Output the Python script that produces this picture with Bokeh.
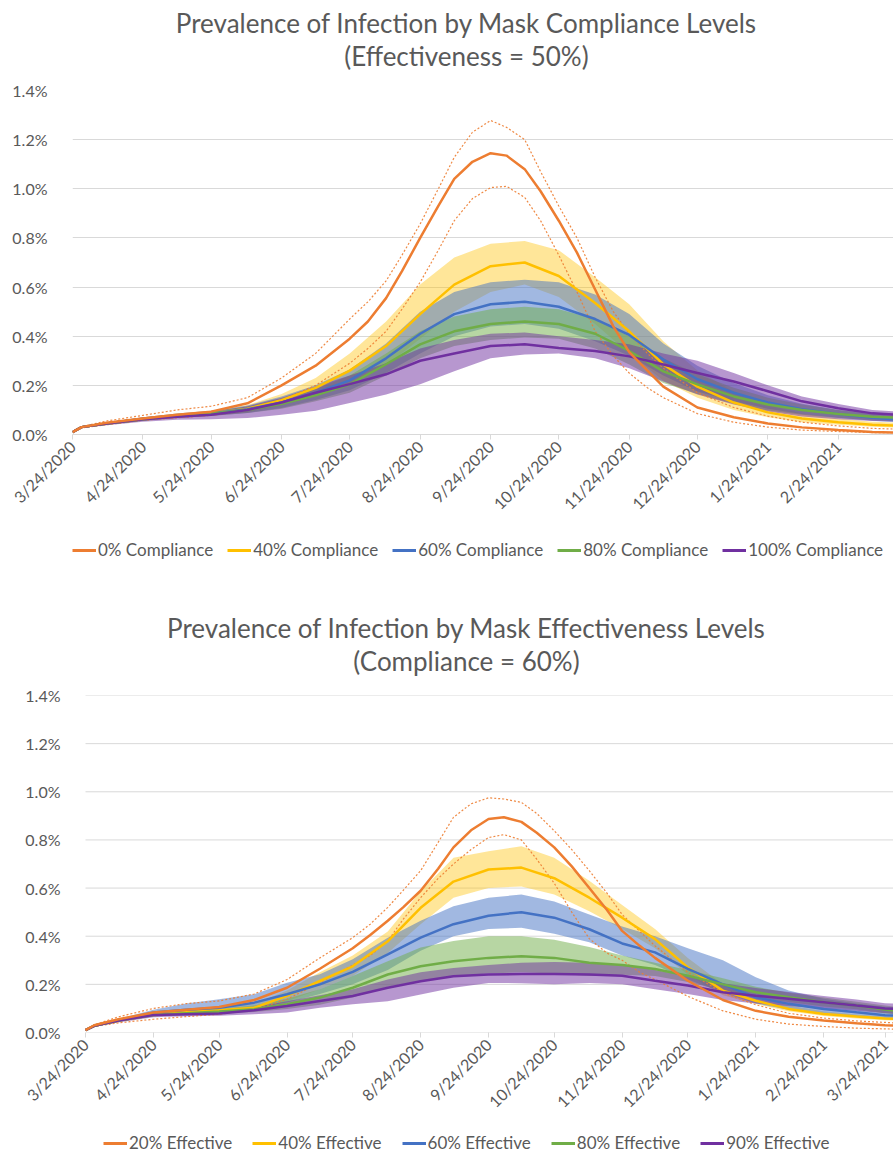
import math
from bokeh.plotting import figure
from bokeh.models import Range1d, FixedTicker, Legend, LegendItem, Label
from bokeh.layouts import column
from bokeh.embed import file_html
from bokeh.resources import INLINE

# ---------------- shared axis data ----------------
tick_days = [0, 31, 61, 92, 122, 153, 184, 214, 245, 275, 306, 337, 365]
tick_labels = ["3/24/2020", "4/24/2020", "5/24/2020", "6/24/2020", "7/24/2020", "8/24/2020",
               "9/24/2020", "10/24/2020", "11/24/2020", "12/24/2020", "1/24/2021", "2/24/2021", "3/24/2021"]
y_ticks = [0.0, 0.2, 0.4, 0.6, 0.8, 1.0, 1.2, 1.4]
y_tick_labels = ["0.0%", "0.2%", "0.4%", "0.6%", "0.8%", "1.0%", "1.2%", "1.4%"]

# ---------------- chart 1: compliance levels (effectiveness 50%) ----------------
top_title = "Prevalence of Infection by Mask Compliance Levels"
top_subtitle = "(Effectiveness = 50%)"
top_labels = ["0% Compliance", "40% Compliance", "60% Compliance", "80% Compliance", "100% Compliance"]
top_days = [0, 4, 15, 31, 46, 61, 77, 92, 107, 122, 138, 153, 168, 184, 199, 214, 230, 245, 260, 275, 291, 306, 321, 337, 352, 362]
top_days_c0 = [0, 4, 15, 31, 46, 61, 77, 92, 107, 122, 130, 138, 145, 153, 161, 168, 176, 184, 191, 199, 206, 214, 222, 230, 238, 245, 253, 260, 275, 291, 306, 321, 337, 352, 362]

c0_mid = [0.01, 0.03, 0.048, 0.065, 0.08, 0.093, 0.127, 0.2, 0.28, 0.39, 0.46, 0.555, 0.665, 0.8, 0.93, 1.04, 1.11, 1.145, 1.135, 1.08, 0.99, 0.87, 0.74, 0.59, 0.44, 0.335, 0.26, 0.195, 0.11, 0.07, 0.045, 0.029, 0.018, 0.01, 0.008]
c0_hi = [0.01, 0.032, 0.055, 0.078, 0.1, 0.115, 0.15, 0.23, 0.33, 0.47, 0.54, 0.625, 0.73, 0.857, 1.0, 1.128, 1.23, 1.278, 1.25, 1.2, 1.07, 0.93, 0.8, 0.64, 0.5, 0.41, 0.33, 0.27, 0.17, 0.11, 0.075, 0.05, 0.035, 0.025, 0.022]
c0_lo = [0.01, 0.027, 0.04, 0.058, 0.068, 0.078, 0.098, 0.14, 0.2, 0.29, 0.35, 0.42, 0.51, 0.62, 0.75, 0.87, 0.96, 1.005, 1.01, 0.965, 0.87, 0.73, 0.58, 0.42, 0.32, 0.25, 0.19, 0.15, 0.085, 0.05, 0.03, 0.018, 0.012, 0.008, 0.007]

c40_mid = [0.01, 0.03, 0.045, 0.063, 0.077, 0.087, 0.105, 0.14, 0.19, 0.26, 0.36, 0.49, 0.61, 0.685, 0.70, 0.645, 0.535, 0.42, 0.285, 0.195, 0.13, 0.09, 0.065, 0.05, 0.04, 0.036]
c40_hi = [0.01, 0.032, 0.05, 0.07, 0.085, 0.097, 0.12, 0.165, 0.23, 0.33, 0.46, 0.61, 0.72, 0.776, 0.788, 0.75, 0.64, 0.53, 0.38, 0.26, 0.175, 0.12, 0.085, 0.065, 0.052, 0.048]
c40_lo = [0.01, 0.028, 0.04, 0.056, 0.068, 0.077, 0.09, 0.118, 0.155, 0.2, 0.28, 0.39, 0.5, 0.58, 0.61, 0.56, 0.45, 0.33, 0.22, 0.15, 0.1, 0.07, 0.05, 0.04, 0.032, 0.028]

c60_mid = [0.01, 0.03, 0.045, 0.063, 0.077, 0.087, 0.103, 0.13, 0.17, 0.22, 0.31, 0.41, 0.49, 0.53, 0.54, 0.52, 0.47, 0.405, 0.305, 0.225, 0.17, 0.13, 0.103, 0.083, 0.068, 0.062]
c60_hi = [0.01, 0.032, 0.05, 0.07, 0.085, 0.097, 0.118, 0.155, 0.2, 0.265, 0.37, 0.5, 0.58, 0.62, 0.63, 0.62, 0.57, 0.49, 0.37, 0.28, 0.21, 0.16, 0.125, 0.1, 0.082, 0.076]
c60_lo = [0.01, 0.028, 0.04, 0.056, 0.068, 0.076, 0.088, 0.108, 0.14, 0.18, 0.25, 0.33, 0.4, 0.44, 0.45, 0.43, 0.38, 0.32, 0.24, 0.175, 0.135, 0.105, 0.083, 0.068, 0.056, 0.05]

c80_mid = [0.01, 0.03, 0.045, 0.062, 0.075, 0.085, 0.1, 0.125, 0.16, 0.204, 0.286, 0.367, 0.42, 0.45, 0.46, 0.45, 0.41, 0.34, 0.257, 0.204, 0.155, 0.122, 0.1, 0.083, 0.072, 0.069]
c80_hi = [0.01, 0.032, 0.05, 0.068, 0.083, 0.095, 0.113, 0.145, 0.185, 0.24, 0.33, 0.42, 0.48, 0.51, 0.52, 0.51, 0.47, 0.4, 0.31, 0.245, 0.19, 0.15, 0.122, 0.1, 0.088, 0.084]
c80_lo = [0.01, 0.028, 0.04, 0.056, 0.067, 0.075, 0.087, 0.105, 0.135, 0.17, 0.24, 0.31, 0.36, 0.385, 0.395, 0.39, 0.35, 0.285, 0.21, 0.165, 0.125, 0.098, 0.08, 0.067, 0.058, 0.055]

c100_mid = [0.01, 0.03, 0.045, 0.062, 0.072, 0.08, 0.1, 0.13, 0.17, 0.205, 0.245, 0.3, 0.33, 0.36, 0.367, 0.352, 0.34, 0.318, 0.285, 0.25, 0.216, 0.176, 0.135, 0.107, 0.086, 0.081]
c100_hi = [0.01, 0.033, 0.05, 0.07, 0.082, 0.092, 0.115, 0.15, 0.195, 0.24, 0.29, 0.35, 0.385, 0.41, 0.415, 0.4, 0.385, 0.367, 0.33, 0.3, 0.25, 0.2, 0.155, 0.124, 0.1, 0.094]
c100_lo = [0.01, 0.026, 0.038, 0.052, 0.06, 0.062, 0.067, 0.08, 0.097, 0.128, 0.163, 0.204, 0.257, 0.31, 0.326, 0.33, 0.31, 0.27, 0.216, 0.163, 0.122, 0.094, 0.073, 0.062, 0.055, 0.053]

# ---------------- chart 2: effectiveness levels (compliance 60%) ----------------
bot_title = "Prevalence of Infection by Mask Effectiveness Levels"
bot_subtitle = "(Compliance = 60%)"
bot_labels = ["20% Effective", "40% Effective", "60% Effective", "80% Effective", "90% Effective"]
bot_days = [0, 4, 15, 31, 46, 61, 77, 92, 107, 122, 138, 153, 168, 184, 199, 214, 230, 245, 260, 275, 291, 306, 321, 337, 352, 365, 369]
bot_days_e20 = [0, 4, 15, 31, 46, 61, 77, 92, 107, 122, 130, 138, 145, 153, 161, 168, 176, 184, 191, 199, 206, 214, 222, 230, 238, 245, 253, 260, 275, 291, 306, 321, 337, 352, 365, 369]

e20_mid = [0.01, 0.03, 0.055, 0.083, 0.095, 0.106, 0.135, 0.186, 0.265, 0.35, 0.405, 0.464, 0.52, 0.589, 0.68, 0.769, 0.84, 0.887, 0.894, 0.875, 0.83, 0.769, 0.69, 0.6, 0.51, 0.422, 0.36, 0.31, 0.215, 0.135, 0.09, 0.065, 0.05, 0.038, 0.03, 0.029]
e20_hi = [0.01, 0.032, 0.065, 0.1, 0.12, 0.131, 0.16, 0.22, 0.31, 0.394, 0.45, 0.52, 0.59, 0.672, 0.79, 0.894, 0.95, 0.975, 0.97, 0.956, 0.91, 0.838, 0.76, 0.672, 0.58, 0.49, 0.42, 0.36, 0.25, 0.165, 0.115, 0.08, 0.06, 0.048, 0.042, 0.04]
e20_lo = [0.01, 0.025, 0.04, 0.055, 0.066, 0.076, 0.095, 0.138, 0.207, 0.28, 0.32, 0.38, 0.47, 0.56, 0.64, 0.70, 0.76, 0.81, 0.822, 0.80, 0.72, 0.62, 0.5, 0.39, 0.33, 0.3, 0.25, 0.22, 0.15, 0.09, 0.055, 0.035, 0.025, 0.018, 0.015, 0.014]

e40_mid = [0.01, 0.028, 0.05, 0.076, 0.085, 0.092, 0.103, 0.152, 0.214, 0.275, 0.379, 0.518, 0.627, 0.677, 0.685, 0.641, 0.56, 0.477, 0.388, 0.27, 0.174, 0.132, 0.098, 0.077, 0.066, 0.058, 0.057]
e40_hi = [0.01, 0.03, 0.055, 0.085, 0.095, 0.103, 0.118, 0.175, 0.25, 0.32, 0.42, 0.587, 0.726, 0.753, 0.774, 0.726, 0.63, 0.53, 0.43, 0.31, 0.2, 0.15, 0.112, 0.088, 0.075, 0.066, 0.064]
e40_lo = [0.01, 0.026, 0.045, 0.068, 0.075, 0.082, 0.09, 0.13, 0.18, 0.235, 0.33, 0.45, 0.56, 0.6, 0.607, 0.573, 0.504, 0.43, 0.35, 0.24, 0.155, 0.118, 0.088, 0.069, 0.058, 0.051, 0.05]

e60_mid = [0.01, 0.028, 0.05, 0.083, 0.095, 0.103, 0.124, 0.159, 0.2, 0.252, 0.325, 0.394, 0.45, 0.485, 0.50, 0.477, 0.429, 0.37, 0.333, 0.264, 0.2, 0.146, 0.119, 0.098, 0.084, 0.072, 0.07]
e60_hi = [0.01, 0.03, 0.056, 0.095, 0.12, 0.138, 0.159, 0.207, 0.242, 0.304, 0.394, 0.464, 0.524, 0.56, 0.573, 0.544, 0.49, 0.44, 0.4, 0.35, 0.3, 0.23, 0.175, 0.14, 0.12, 0.107, 0.105]
e60_lo = [0.01, 0.026, 0.045, 0.072, 0.082, 0.088, 0.1, 0.125, 0.16, 0.2, 0.26, 0.34, 0.4, 0.43, 0.435, 0.41, 0.375, 0.32, 0.28, 0.22, 0.165, 0.12, 0.095, 0.08, 0.068, 0.06, 0.058]

e80_mid = [0.01, 0.028, 0.05, 0.073, 0.08, 0.087, 0.097, 0.117, 0.145, 0.186, 0.241, 0.275, 0.296, 0.31, 0.317, 0.31, 0.29, 0.28, 0.264, 0.236, 0.2, 0.167, 0.146, 0.126, 0.112, 0.095, 0.091]
e80_hi = [0.01, 0.03, 0.055, 0.082, 0.09, 0.098, 0.112, 0.14, 0.18, 0.235, 0.296, 0.353, 0.38, 0.40, 0.40, 0.385, 0.355, 0.32, 0.29, 0.26, 0.225, 0.19, 0.165, 0.145, 0.128, 0.112, 0.108]
e80_lo = [0.01, 0.026, 0.045, 0.066, 0.072, 0.078, 0.085, 0.098, 0.115, 0.145, 0.19, 0.215, 0.235, 0.245, 0.25, 0.245, 0.235, 0.24, 0.235, 0.21, 0.175, 0.145, 0.127, 0.108, 0.097, 0.08, 0.076]

e90_mid = [0.01, 0.028, 0.05, 0.073, 0.076, 0.079, 0.092, 0.11, 0.131, 0.152, 0.186, 0.213, 0.234, 0.241, 0.243, 0.243, 0.241, 0.236, 0.215, 0.195, 0.167, 0.153, 0.14, 0.126, 0.112, 0.1, 0.098]
e90_hi = [0.01, 0.03, 0.055, 0.08, 0.085, 0.09, 0.105, 0.13, 0.155, 0.18, 0.22, 0.25, 0.268, 0.28, 0.29, 0.293, 0.29, 0.282, 0.26, 0.235, 0.205, 0.185, 0.168, 0.152, 0.137, 0.122, 0.12]
e90_lo = [0.01, 0.024, 0.042, 0.063, 0.068, 0.07, 0.076, 0.083, 0.103, 0.117, 0.13, 0.158, 0.186, 0.206, 0.205, 0.2, 0.206, 0.2, 0.18, 0.16, 0.135, 0.12, 0.11, 0.1, 0.09, 0.08, 0.078]

# ---------------- styling ----------------
FONT = "Lato"
GRAY = "#595959"
GRID = "#D9D9D9"
COLORS = ["#ED7D31", "#FFC000", "#4472C4", "#70AD47", "#7030A0"]
BAND_ALPHA = [0.0, 0.4, 0.5, 0.5, 0.5]
W = 893
LB = 72          # common left border of every figure in the column
CENTER_X = 466   # horizontal centre of titles


def header(h, lines):
    p = figure(width=W, height=h, x_range=Range1d(LB, W), y_range=Range1d(0, h),
               x_axis_type=None, y_axis_type=None, output_backend="svg", toolbar_location=None,
               min_border_left=LB, min_border_right=0, min_border_top=0, min_border_bottom=0)
    p.outline_line_color = None
    for text, y in lines:
        p.add_layout(Label(x=CENTER_X, y=y, text=text, text_align="center", text_baseline="middle",
                           text_font=FONT, text_font_size="26px", text_color=GRAY))
    return p


def legend_fig(h, series, labels, left, font_size, spacing, y_off):
    p = figure(width=W, height=h, x_range=Range1d(1000, 1001), y_range=Range1d(0, 1),
               x_axis_type=None, y_axis_type=None, output_backend="svg", toolbar_location=None,
               min_border_left=LB, min_border_right=0, min_border_top=0, min_border_bottom=0)
    p.outline_line_color = None
    items = []
    for i in range(5):
        days, mid, hi, lo = series[i]
        r = p.line(days, mid, line_color=COLORS[i], line_width=3)
        items.append(LegendItem(label=labels[i], renderers=[r]))
    leg = Legend(items=items, orientation="horizontal", location=(left - LB, y_off),
                 label_text_font=FONT, label_text_font_size=font_size, label_text_color=GRAY,
                 glyph_width=24, glyph_height=16, label_standoff=2, spacing=spacing,
                 padding=0, margin=0, border_line_color=None, background_fill_alpha=0)
    p.add_layout(leg)
    return p


def chart(series, x_start, x_end, H, mb_bottom, label_standoff, own_grid):
    p = figure(width=W, height=H, x_range=Range1d(x_start, x_end), y_range=Range1d(0, 1.4),
               output_backend="svg", toolbar_location=None,
               min_border_left=LB, min_border_right=0, min_border_top=10,
               min_border_bottom=mb_bottom)
    p.outline_line_color = None
    p.xgrid.grid_line_color = None

    p.yaxis.ticker = FixedTicker(ticks=y_ticks)
    p.yaxis.major_label_overrides = {t: l for t, l in zip(y_ticks, y_tick_labels)}
    p.yaxis.axis_line_color = None
    p.yaxis.major_tick_line_color = None
    p.yaxis.minor_tick_line_color = None
    p.yaxis.major_label_text_font = FONT
    p.yaxis.major_label_text_font_size = "16px"
    p.yaxis.major_label_text_color = GRAY
    p.yaxis.major_label_standoff = label_standoff

    p.xaxis.ticker = FixedTicker(ticks=tick_days)
    p.xaxis.major_label_overrides = {t: l for t, l in zip(tick_days, tick_labels)}
    p.xaxis.major_tick_line_color = GRID
    p.xaxis.major_tick_out = 5
    p.xaxis.major_tick_in = 0
    p.xaxis.minor_tick_line_color = None
    p.xaxis.major_label_orientation = math.pi / 4
    p.xaxis.major_label_text_font = FONT
    p.xaxis.major_label_text_font_size = "16px"
    p.xaxis.major_label_text_color = GRAY
    p.xaxis.major_label_standoff = 4

    if own_grid:
        # gridlines start at the first date, as in the reference
        p.ygrid.grid_line_color = None
        p.xaxis.axis_line_color = None
        p.segment(x0=[0] * len(y_ticks), x1=[x_end] * len(y_ticks), y0=y_ticks, y1=y_ticks,
                  line_color=GRID, line_width=1)
    else:
        p.ygrid.grid_line_color = GRID
        p.xaxis.axis_line_color = GRID

    for i in range(1, 5):
        days, mid, hi, lo = series[i]
        p.varea(x=days, y1=lo, y2=hi, fill_color=COLORS[i], fill_alpha=BAND_ALPHA[i])

    days0, mid0, hi0, lo0 = series[0]
    p.line(days0, hi0, line_color=COLORS[0], line_width=1.2, line_dash="2 2", line_alpha=0.9)
    p.line(days0, lo0, line_color=COLORS[0], line_width=1.2, line_dash="2 2", line_alpha=0.9)

    for i in [1, 2, 3, 4, 0]:
        days, mid, hi, lo = series[i]
        p.line(days, mid, line_color=COLORS[i], line_width=2.5)
    return p


top_series = [(top_days_c0, c0_mid, c0_hi, c0_lo), (top_days, c40_mid, c40_hi, c40_lo),
              (top_days, c60_mid, c60_hi, c60_lo), (top_days, c80_mid, c80_hi, c80_lo),
              (top_days, c100_mid, c100_hi, c100_lo)]
bot_series = [(bot_days_e20, e20_mid, e20_hi, e20_lo), (bot_days, e40_mid, e40_hi, e40_lo),
              (bot_days, e60_mid, e60_hi, e60_lo), (bot_days, e80_mid, e80_hi, e80_lo),
              (bot_days, e90_mid, e90_hi, e90_lo)]

h1 = header(80, [(top_title, 58), (top_subtitle, 25)])
p1 = chart(top_series, 0.0, 361.3, H=455, mb_bottom=101, label_standoff=19, own_grid=False)
l1 = legend_fig(30, top_series, top_labels, left=72, font_size="17px", spacing=14, y_off=5)
h2 = header(120, [(bot_title, 58), (bot_subtitle, 25)])
p2 = chart(bot_series, -5.935, 368.88, H=445, mb_bottom=98, label_standoff=6, own_grid=True)
l2 = legend_fig(26, bot_series, bot_labels, left=103, font_size="17px", spacing=20, y_off=3)

layout = column(h1, p1, l1, h2, p2, l2, spacing=0)
open("out.html", "w").write(file_html(layout, INLINE))
